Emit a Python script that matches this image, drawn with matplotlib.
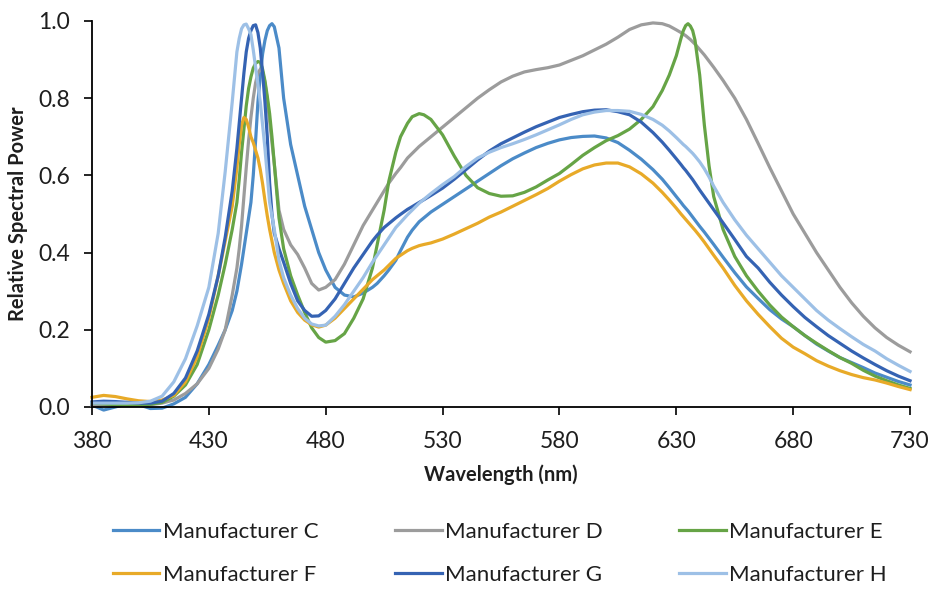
import numpy as np
import matplotlib
matplotlib.use("Agg")
import matplotlib.pyplot as plt

plt.rcParams['font.family'] = ['Lato', 'DejaVu Sans']

# wavelength grid (nm), denser around the narrow peaks
wavelength = [380, 385, 390, 395, 400, 405, 410, 415, 420, 425, 430, 434, 437, 440,
              442, 443, 444, 445, 446, 447, 448, 449, 450, 451, 452, 453, 454, 455,
              456, 457, 458, 460, 462, 465, 468, 471, 474, 477, 480, 484, 488, 492,
              496, 500, 502, 505, 507, 510, 512, 515, 517, 520, 522, 525, 530, 535,
              540, 545, 550, 555, 560, 565, 570, 575, 580, 585, 590, 595, 600, 605,
              610, 615, 620, 624, 627, 630, 632, 633, 634, 635, 636, 637, 638, 640,
              642, 644, 646, 650, 655, 660, 665, 670, 675, 680, 685, 690, 695, 700,
              705, 710, 715, 720, 725, 730]

mfr_c = [0.005, -0.008, 0.0, 0.008, 0.006, -0.004, -0.003, 0.008, 0.025, 0.06, 0.11, 0.16, 0.20, 0.25,
         0.30, 0.335, 0.37, 0.41, 0.45, 0.49, 0.53, 0.60, 0.69, 0.79, 0.86, 0.915, 0.95, 0.975,
         0.988, 0.993, 0.985, 0.93, 0.80, 0.68, 0.60, 0.52, 0.46, 0.40, 0.355, 0.31, 0.29, 0.285,
         0.295, 0.31, 0.32, 0.34, 0.355, 0.38, 0.405, 0.44, 0.458, 0.48, 0.49, 0.505, 0.525, 0.545,
         0.565, 0.585, 0.605, 0.625, 0.643, 0.658, 0.672, 0.683, 0.692, 0.698, 0.701, 0.702, 0.697, 0.685,
         0.665, 0.642, 0.615, 0.59, 0.568, 0.545, 0.53, 0.522, 0.515, 0.508, 0.50, 0.492, 0.484, 0.468,
         0.453, 0.437, 0.421, 0.388, 0.348, 0.311, 0.281, 0.252, 0.228, 0.208, 0.185, 0.163, 0.145, 0.128,
         0.115, 0.102, 0.088, 0.077, 0.066, 0.057]

mfr_d = [0.005, 0.006, 0.006, 0.005, 0.005, 0.006, 0.01, 0.018, 0.035, 0.06, 0.10, 0.15, 0.20, 0.29,
         0.36, 0.41, 0.47, 0.545, 0.62, 0.69, 0.75, 0.80, 0.84, 0.865, 0.875, 0.868, 0.84, 0.795,
         0.74, 0.685, 0.63, 0.51, 0.46, 0.42, 0.395, 0.36, 0.32, 0.303, 0.31, 0.33, 0.37, 0.42,
         0.47, 0.51, 0.53, 0.56, 0.58, 0.605, 0.62, 0.645, 0.657, 0.675, 0.685, 0.70, 0.725, 0.75,
         0.775, 0.80, 0.822, 0.842, 0.857, 0.868, 0.874, 0.879, 0.886, 0.898, 0.91, 0.925, 0.94, 0.958,
         0.978, 0.99, 0.995, 0.993, 0.987, 0.977, 0.97, 0.966, 0.962, 0.957, 0.952, 0.946, 0.94, 0.926,
         0.912, 0.896, 0.88, 0.846, 0.80, 0.745, 0.683, 0.62, 0.56, 0.50, 0.45, 0.40, 0.355, 0.31,
         0.27, 0.235, 0.205, 0.18, 0.16, 0.143]

mfr_e = [0.01, 0.008, 0.006, 0.005, 0.005, 0.007, 0.012, 0.028, 0.057, 0.11, 0.20, 0.29, 0.37, 0.46,
         0.53, 0.59, 0.66, 0.72, 0.78, 0.825, 0.855, 0.878, 0.89, 0.895, 0.893, 0.875, 0.845, 0.805,
         0.76, 0.70, 0.63, 0.49, 0.41, 0.34, 0.29, 0.245, 0.205, 0.18, 0.168, 0.172, 0.19, 0.23,
         0.28, 0.36, 0.42, 0.51, 0.585, 0.66, 0.70, 0.735, 0.752, 0.76, 0.757, 0.745, 0.705, 0.65,
         0.60, 0.568, 0.553, 0.546, 0.547, 0.556, 0.57, 0.588, 0.605, 0.628, 0.652, 0.672, 0.69, 0.703,
         0.72, 0.745, 0.778, 0.82, 0.86, 0.91, 0.955, 0.975, 0.988, 0.993, 0.987, 0.975, 0.95, 0.86,
         0.73, 0.625, 0.545, 0.46, 0.39, 0.34, 0.30, 0.264, 0.233, 0.208, 0.185, 0.165, 0.146, 0.128,
         0.113, 0.095, 0.08, 0.068, 0.057, 0.048]

mfr_f = [0.025, 0.03, 0.027, 0.021, 0.016, 0.014, 0.018, 0.03, 0.065, 0.13, 0.23, 0.34, 0.43, 0.52,
         0.62, 0.68, 0.73, 0.75, 0.745, 0.725, 0.70, 0.685, 0.665, 0.645, 0.615, 0.578, 0.535, 0.495,
         0.46, 0.43, 0.40, 0.355, 0.32, 0.275, 0.245, 0.225, 0.213, 0.207, 0.212, 0.23, 0.255, 0.28,
         0.305, 0.33, 0.34, 0.355, 0.367, 0.385, 0.393, 0.405, 0.411, 0.418, 0.421, 0.425, 0.435, 0.448,
         0.462, 0.476, 0.492, 0.505, 0.52, 0.535, 0.55, 0.566, 0.585, 0.602, 0.617, 0.627, 0.632, 0.632,
         0.622, 0.604, 0.58, 0.556, 0.536, 0.515, 0.50, 0.493, 0.486, 0.479, 0.472, 0.465, 0.458, 0.443,
         0.427, 0.41, 0.393, 0.36, 0.315, 0.275, 0.24, 0.208, 0.178, 0.155, 0.138, 0.12, 0.106, 0.094,
         0.084, 0.076, 0.07, 0.062, 0.053, 0.045]

mfr_g = [0.013, 0.015, 0.014, 0.012, 0.01, 0.01, 0.015, 0.035, 0.075, 0.145, 0.24, 0.34, 0.44, 0.56,
         0.67, 0.735, 0.80, 0.865, 0.92, 0.955, 0.975, 0.988, 0.99, 0.97, 0.93, 0.865, 0.79, 0.70,
         0.58, 0.50, 0.45, 0.41, 0.375, 0.32, 0.275, 0.25, 0.235, 0.236, 0.25, 0.28, 0.32, 0.36,
         0.395, 0.43, 0.445, 0.465, 0.475, 0.49, 0.499, 0.512, 0.519, 0.53, 0.537, 0.548, 0.567, 0.59,
         0.615, 0.64, 0.663, 0.682, 0.697, 0.712, 0.726, 0.738, 0.75, 0.758, 0.765, 0.769, 0.77, 0.765,
         0.757, 0.738, 0.711, 0.686, 0.665, 0.643, 0.628, 0.62, 0.613, 0.605, 0.597, 0.589, 0.58, 0.562,
         0.545, 0.528, 0.511, 0.477, 0.434, 0.39, 0.36, 0.323, 0.29, 0.26, 0.232, 0.208, 0.185, 0.165,
         0.145, 0.127, 0.11, 0.094, 0.08, 0.068]

mfr_h = [0.01, 0.01, 0.01, 0.01, 0.011, 0.015, 0.028, 0.065, 0.125, 0.21, 0.31, 0.45, 0.61, 0.79,
         0.92, 0.955, 0.98, 0.99, 0.992, 0.98, 0.965, 0.925, 0.88, 0.835, 0.79, 0.73, 0.67, 0.60,
         0.53, 0.495, 0.46, 0.38, 0.335, 0.29, 0.255, 0.23, 0.215, 0.21, 0.212, 0.235, 0.265, 0.30,
         0.335, 0.375, 0.393, 0.42, 0.438, 0.465, 0.478, 0.498, 0.51, 0.528, 0.538, 0.553, 0.576, 0.597,
         0.623, 0.645, 0.66, 0.672, 0.682, 0.693, 0.705, 0.718, 0.731, 0.745, 0.757, 0.764, 0.768, 0.768,
         0.766, 0.758, 0.745, 0.73, 0.715, 0.698, 0.686, 0.68, 0.675, 0.669, 0.663, 0.657, 0.65, 0.635,
         0.617, 0.596, 0.572, 0.53, 0.485, 0.445, 0.41, 0.375, 0.34, 0.31, 0.28, 0.25, 0.225, 0.203,
         0.182, 0.162, 0.145, 0.125, 0.108, 0.092]

labels = ["Manufacturer C", "Manufacturer D", "Manufacturer E",
          "Manufacturer F", "Manufacturer G", "Manufacturer H"]
series = [mfr_c, mfr_d, mfr_e, mfr_f, mfr_g, mfr_h]
colors = ["#4b8bc8", "#9c9c9c", "#66a446", "#e8aa28", "#3563b3", "#9dc0e6"]

x_ticks = [380, 430, 480, 530, 580, 630, 680, 730]
y_ticks = [0.0, 0.2, 0.4, 0.6, 0.8, 1.0]

fig = plt.figure(figsize=(9.31, 5.93), dpi=100)
ax = fig.add_axes([0.0988, 0.3137, 0.8787, 0.6509])

for vals, lab, col in zip(series, labels, colors):
    ax.plot(wavelength, vals, color=col, lw=2.3, label=lab,
            solid_joinstyle='round', clip_on=False)

ax.set_xlim(380, 730)
ax.set_ylim(0, 1.0)
ax.set_xticks(x_ticks)
ax.set_yticks(y_ticks)
ax.set_yticklabels(["%.1f" % v for v in y_ticks])

for side in ['top', 'right']:
    ax.spines[side].set_visible(False)
for side in ['left', 'bottom']:
    ax.spines[side].set_linewidth(1.3)
    ax.spines[side].set_color('black')
    ax.spines[side].set_zorder(5)

ax.tick_params(direction='out', length=6, width=1.2, colors='black',
               labelsize=16.5, labelcolor='#1e1e1e')
ax.tick_params(axis='x', pad=11)
ax.tick_params(axis='y', pad=10)

ax.set_xlabel("Wavelength (nm)", fontsize=14.5, fontweight='bold',
              color='#1e1e1e', labelpad=9)
ax.set_ylabel("Relative Spectral Power", fontsize=14.5, fontweight='bold',
              color='#1e1e1e', labelpad=7)

# legend below the plot: 3 columns x 2 rows
handles, labs = ax.get_legend_handles_labels()
order = [0, 3, 1, 4, 2, 5]
leg = fig.legend([handles[i] for i in order], [labs[i] for i in order],
                 loc='center', bbox_to_anchor=(0.537, 0.067), ncol=3,
                 frameon=False, fontsize=16, handlelength=2.1,
                 handletextpad=0.15, columnspacing=3.45, labelspacing=1.02)
for t in leg.get_texts():
    t.set_color('#1e1e1e')

fig.savefig("out.png", dpi=100)
